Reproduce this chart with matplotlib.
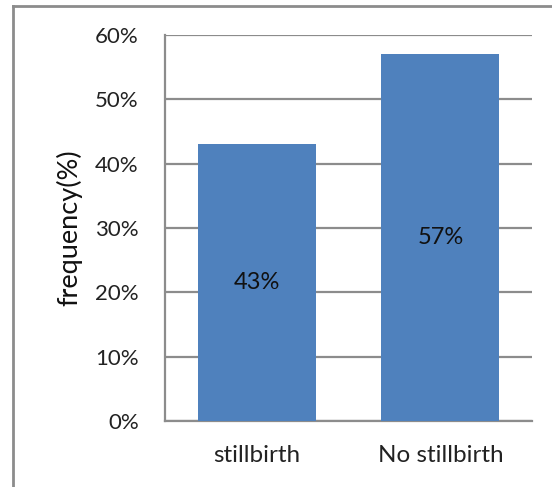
import matplotlib.pyplot as plt
from matplotlib.lines import Line2D
from matplotlib.ticker import PercentFormatter

categories = ["stillbirth", "No stillbirth"]
values = [43, 57]
labels = ["43%", "57%"]

plt.rcParams['font.family'] = ['Lato', 'DejaVu Sans']

fig = plt.figure(figsize=(5.52, 4.87), dpi=100)
ax = fig.add_axes([0.299, 0.1355, 0.665, 0.7925])

x = range(len(categories))
bars = ax.bar(x, values, width=0.643, color="#4F81BD", zorder=3)
for b, lab in zip(bars, labels):
    ax.text(b.get_x() + b.get_width() / 2, b.get_height() / 2, lab,
            ha="center", va="center", fontsize=17, color="#111111", zorder=4)

ax.set_xlim(-0.5, 1.5)
ax.set_ylim(0, 60)
ax.set_yticks(range(0, 61, 10))
ax.yaxis.set_major_formatter(PercentFormatter(decimals=0))
ax.set_xticks(list(x))
ax.set_xticklabels(categories)
ax.tick_params(axis="y", labelsize=16, length=0, pad=19, labelcolor="#222222")
ax.tick_params(axis="x", labelsize=17.5, length=0, pad=17, labelcolor="#222222")
ax.grid(axis="y", color="#8c8c8c", linewidth=1.6, zorder=0)
for s in ["top", "right"]:
    ax.spines[s].set_visible(False)
for s in ["left", "bottom"]:
    ax.spines[s].set_color("#8c8c8c")
    ax.spines[s].set_linewidth(1.6)
ax.set_ylabel("frequency(%)", fontsize=19.5, color="#111111", labelpad=9)

# outer chart border (cut off at right and bottom)
fig.add_artist(Line2D([13 / 552, 13 / 552], [0, 1 - 6 / 487],
                      transform=fig.transFigure, color="#8c8c8c", linewidth=2))
fig.add_artist(Line2D([13 / 552, 1], [1 - 6 / 487, 1 - 6 / 487],
                      transform=fig.transFigure, color="#8c8c8c", linewidth=2))

fig.savefig("out.png", dpi=100)
